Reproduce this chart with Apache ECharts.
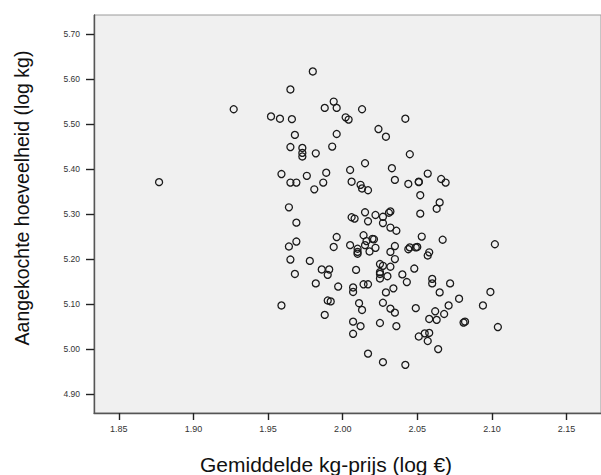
<!DOCTYPE html>
<html>
<head>
<meta charset="utf-8">
<script src="https://cdn.jsdelivr.net/npm/echarts@6/dist/echarts.min.js"></script>
<style>
html,body{margin:0;padding:0;background:#fff;}
#chart{width:601px;height:475px;}
</style>
</head>
<body>
<div id="chart"></div>
<script>
// Average price per kg (log €)
var priceLog = [
1.877,1.927,1.952,1.958,1.966,1.965,1.968,1.965,1.959,1.965,1.969,1.964,1.969,1.969,1.964,1.965,1.968,1.959,
1.980,1.994,1.988,1.996,1.996,1.993,1.973,1.973,1.973,1.982,1.976,1.989,1.987,1.981,1.996,1.994,1.978,1.986,1.991,1.990,1.982,1.997,1.990,1.992,1.988,
2.013,2.002,2.004,2.042,2.024,2.029,2.045,2.015,2.005,2.033,2.057,2.066,2.069,2.035,2.044,2.051,2.051,2.006,2.012,2.013,2.017,
2.052,2.065,2.063,2.052,2.015,2.006,2.008,2.017,2.022,2.027,2.031,2.032,2.027,2.032,2.036,2.014,2.016,2.020,2.021,2.053,2.067,2.102,
2.005,2.015,2.010,2.010,2.010,2.018,2.022,2.032,2.035,2.035,2.044,2.045,2.049,2.050,2.058,2.057,
2.009,2.025,2.027,2.025,2.025,2.025,2.030,2.032,2.040,2.048,2.043,2.060,2.060,2.072,2.065,2.078,2.099,2.094,2.071,2.062,2.068,2.063,2.058,2.049,2.081,2.082,2.104,
2.007,2.007,2.014,2.017,2.034,2.029,2.011,2.013,2.027,2.032,2.035,2.007,2.012,2.025,2.036,2.007,2.051,2.055,2.058,2.057,2.064,2.017,2.027,2.042
];
// Purchased quantity (log kg)
var quantityLog = [
5.371,5.533,5.517,5.512,5.511,5.577,5.476,5.449,5.389,5.370,5.370,5.315,5.281,5.239,5.228,5.199,5.167,5.097,
5.617,5.550,5.536,5.536,5.478,5.450,5.447,5.436,5.428,5.435,5.385,5.392,5.370,5.355,5.249,5.227,5.196,5.177,5.177,5.165,5.146,5.139,5.108,5.106,5.076,
5.533,5.515,5.510,5.512,5.489,5.472,5.433,5.413,5.398,5.402,5.390,5.378,5.370,5.376,5.367,5.372,5.371,5.372,5.365,5.357,5.353,
5.342,5.326,5.312,5.301,5.304,5.293,5.290,5.284,5.298,5.294,5.303,5.306,5.280,5.270,5.263,5.253,5.240,5.245,5.244,5.250,5.243,5.233,
5.231,5.231,5.223,5.216,5.212,5.217,5.225,5.216,5.229,5.200,5.222,5.226,5.226,5.227,5.215,5.208,
5.176,5.189,5.185,5.171,5.167,5.157,5.162,5.183,5.166,5.179,5.149,5.156,5.146,5.146,5.126,5.112,5.127,5.097,5.097,5.084,5.078,5.065,5.067,5.091,5.059,5.061,5.049,
5.137,5.127,5.144,5.144,5.135,5.126,5.102,5.087,5.103,5.090,5.081,5.061,5.051,5.058,5.051,5.034,5.028,5.035,5.036,5.018,5.000,4.990,4.971,4.965
];
var xTicks = [1.85, 1.90, 1.95, 2.00, 2.05, 2.10, 2.15];
var yTicks = [4.90, 5.00, 5.10, 5.20, 5.30, 5.40, 5.50, 5.60, 5.70];
var xTitle = 'Gemiddelde kg-prijs (log €)';
var yTitle = 'Aangekochte hoeveelheid (log kg)';

var points = priceLog.map(function (x, i) { return [x, quantityLog[i]]; });

var chart = echarts.init(document.getElementById('chart'), null, {renderer: 'svg'});
var fontFam = '"Liberation Sans", Arial, sans-serif';
chart.setOption({
  animation: false,
  backgroundColor: '#ffffff',
  grid: {
    left: 94, top: 15, width: 520, height: 398,
    show: true, backgroundColor: '#f0f0f0', borderColor: '#9a9a9a', borderWidth: 1
  },
  xAxis: {
    type: 'value', min: 1.8334, max: 2.1731,
    splitLine: {show: false},
    axisLine: {show: true, onZero: false, lineStyle: {color: '#555', width: 1.4}},
    axisTick: {show: true, customValues: xTicks, length: 7, inside: false, lineStyle: {color: '#222', width: 1.4}},
    axisLabel: {customValues: xTicks, margin: 11, fontSize: 9, color: '#333', fontFamily: fontFam,
      formatter: function (v) { return v.toFixed(2); }}
  },
  yAxis: {
    type: 'value', min: 4.858, max: 5.7424,
    splitLine: {show: false},
    axisLine: {show: true, onZero: false, lineStyle: {color: '#555', width: 1.4}},
    axisTick: {show: true, customValues: yTicks, length: 8, inside: false, lineStyle: {color: '#222', width: 1.4}},
    axisLabel: {customValues: yTicks, margin: 14, fontSize: 8.5, color: '#333', fontFamily: fontFam,
      formatter: function (v) { return v.toFixed(2); }}
  },
  graphic: [
    {type: 'text', x: 326, y: 464, style: {text: xTitle, fontSize: 21, fontFamily: fontFam, fill: '#111', textAlign: 'center', textVerticalAlign: 'middle'}},
    {type: 'text', x: 22, y: 198, rotation: Math.PI / 2, style: {text: yTitle, fontSize: 19.5, fontFamily: fontFam, fill: '#111', textAlign: 'center', textVerticalAlign: 'middle'}}
  ],
  series: [{
    type: 'scatter',
    data: points,
    symbol: 'circle',
    symbolSize: 7,
    itemStyle: {color: 'rgba(0,0,0,0)', borderColor: '#1a1a1a', borderWidth: 1.3, opacity: 1},
    emphasis: {disabled: true}
  }]
});
</script>
</body>
</html>
